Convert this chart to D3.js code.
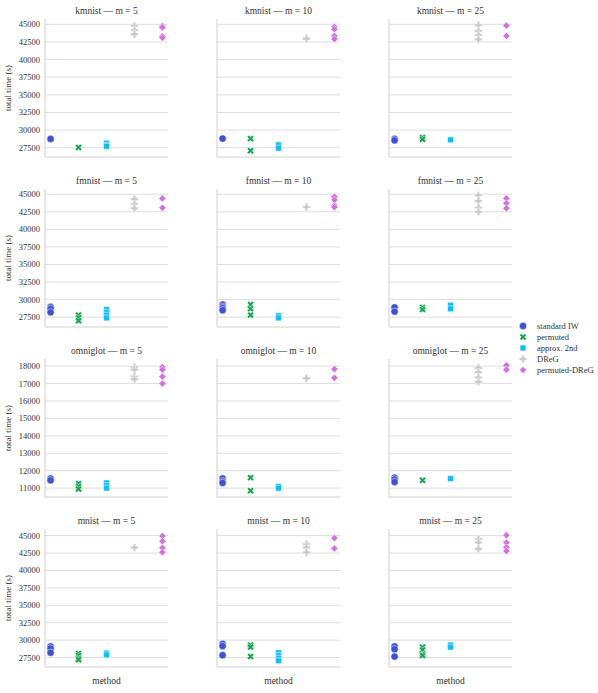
<!DOCTYPE html>
<html>
<head>
<meta charset="utf-8">
<script src="https://cdn.jsdelivr.net/npm/d3@7"></script>
<style>
  body { margin: 0; background: #fff; }
  svg { display: block; }
  text { font-family: "Liberation Serif", "DejaVu Serif", serif; fill: #333; }
</style>
</head>
<body>
<svg id="chart" width="598" height="693"></svg>
<script>
// ---------------- data ----------------
const datasets = ["kmnist", "fmnist", "omniglot", "mnist"];
const mValues = [5, 10, 25];
const methods = ["standard IW", "permuted", "approx. 2nd", "DReG", "permuted-DReG"];

// per dataset: [m=5, m=10, m=25], each a list of per-method run times (s)
const kmnistTimes = [
  [[28750], [27550], [28150, 27850, 27700], [44800, 44200, 43600], [44750, 44550, 43300, 43100]],
  [[28800], [28800, 27080], [27900, 27450], [43100, 42950], [44650, 44300, 43350, 42900]],
  [[28750, 28550], [28950, 28700], [28630], [44860, 44060, 43490, 42840], [44820, 43350]]
];
const fmnistTimes = [
  [[28950, 28700, 28200], [27800, 27400, 27000], [28600, 28200, 27800, 27400], [44300, 43600, 43000], [44400, 43070]],
  [[29300, 29000, 28800, 28500], [29300, 28700, 27800], [27700, 27400], [43170], [44650, 44200, 43400, 43150]],
  [[28900, 28300], [28900, 28600], [29200, 28700], [44850, 44050, 43100, 42500], [44400, 43700, 43000]]
];
const omniglotTimes = [
  [[11550, 11450], [11250, 11100, 10950], [11300, 11150, 11000], [17950, 17800, 17400, 17250], [17950, 17800, 17400, 17000]],
  [[11550, 11400, 11300], [11600, 10850], [11100, 11000], [17300], [17830, 17330]],
  [[11600, 11500, 11350], [11450], [11550], [17900, 17650, 17350, 17100], [18050, 17800]]
];
const mnistTimes = [
  [[29100, 28800, 28200], [28100, 27800, 27400, 27200], [28150, 27900], [43300], [44950, 44200, 43250, 42600]],
  [[29450, 29150, 27850], [29300, 29000, 27650], [28200, 27800, 27400, 27050], [43800, 43300, 42600], [44650, 43150]],
  [[29100, 28700, 27650], [29000, 28600, 28000, 27800], [29300, 29000], [44500, 44000, 43100], [45050, 44000, 43300, 42800]]
];
const allTimes = [kmnistTimes, fmnistTimes, omniglotTimes, mnistTimes];

const bigTicks = [27500, 30000, 32500, 35000, 37500, 40000, 42500, 45000];
const omniTicks = [11000, 12000, 13000, 14000, 15000, 16000, 17000, 18000];
const rowTicks = [bigTicks, bigTicks, omniTicks, bigTicks];

// ---------------- style ----------------
const colors = ["#3e50d6", "#10a84c", "#0abfff", "#c8c8c8", "#d46ee2"];
const colLeft = [45, 217, 389];
const panelW = 123;
const rowTop0 = 19, rowStep = 170, panelH = 138;

const svg = d3.select("#chart");

const symbolFor = [
  d3.symbol().type(d3.symbolCircle).size(42),
  d3.symbol().type(d3.symbolCross).size(30),
  d3.symbol().type(d3.symbolSquare).size(34),
  d3.symbol().type(d3.symbolCross).size(32),
  d3.symbol().type(d3.symbolSquare).size(26)
];
const rotateFor = [0, 45, 0, 0, 45];

const x = d3.scaleLinear().domain([-0.2, 4.2]).range([0, panelW]);

datasets.forEach((ds, r) => {
  const top = rowTop0 + r * rowStep;
  const rowVals = allTimes[r].flat(2);
  const [mn, mx] = d3.extent(rowVals);
  const pad = (mx - mn) * 0.05;
  const y = d3.scaleLinear().domain([mn - pad, mx + pad]).range([panelH, 0]);

  mValues.forEach((m, c) => {
    const g = svg.append("g").attr("transform", `translate(${colLeft[c]},${top})`);

    // grid
    g.selectAll("line.grid").data(rowTicks[r]).join("line")
      .attr("class", "grid")
      .attr("x1", 0).attr("x2", panelW)
      .attr("y1", d => y(d)).attr("y2", d => y(d))
      .attr("stroke", "#dedede").attr("stroke-width", 1);

    // spines
    g.append("line").attr("x1", 0).attr("x2", 0).attr("y1", 0).attr("y2", panelH)
      .attr("stroke", "#d0d0d0").attr("stroke-width", 1);
    g.append("line").attr("x1", 0).attr("x2", panelW).attr("y1", panelH).attr("y2", panelH)
      .attr("stroke", "#d0d0d0").attr("stroke-width", 1);

    // tick labels on first column
    if (c === 0) {
      g.selectAll("text.tick").data(rowTicks[r]).join("text")
        .attr("class", "tick")
        .attr("x", -5).attr("y", d => y(d)).attr("dy", "0.35em")
        .attr("text-anchor", "end").attr("font-size", 8.5)
        .text(d => d);
      g.append("text")
        .attr("transform", `translate(${-34},${panelH / 2}) rotate(-90)`)
        .attr("text-anchor", "middle").attr("font-size", 9)
        .text("total time (s)");
    }

    // title
    g.append("text").attr("x", panelW / 2).attr("y", -5)
      .attr("text-anchor", "middle").attr("font-size", 9.5)
      .text(`${ds} — m = ${m}`);

    if (r === datasets.length - 1) {
      g.append("text").attr("x", panelW / 2).attr("y", panelH + 17)
        .attr("text-anchor", "middle").attr("font-size", 9.5)
        .text("method");
    }

    // points
    const pts = [];
    allTimes[r][c].forEach((vals, k) => vals.forEach(v => pts.push({ k, v })));
    g.selectAll("path.pt").data(pts).join("path")
      .attr("class", "pt")
      .attr("d", d => symbolFor[d.k]())
      .attr("transform", d => `translate(${x(d.k)},${y(d.v)}) rotate(${rotateFor[d.k]})`)
      .attr("fill", d => colors[d.k])
      .attr("stroke", "#fff").attr("stroke-width", 0.5);
  });
});

// legend
const leg = svg.append("g").attr("transform", "translate(523,326)");
methods.forEach((name, k) => {
  const gy = k * 11;
  leg.append("path")
    .attr("d", symbolFor[k]())
    .attr("transform", `translate(0,${gy}) rotate(${rotateFor[k]})`)
    .attr("fill", colors[k]).attr("stroke", "#fff").attr("stroke-width", 0.5);
  leg.append("text").attr("x", 14).attr("y", gy).attr("dy", "0.35em")
    .attr("font-size", 8.5).text(name);
});
</script>
</body>
</html>
